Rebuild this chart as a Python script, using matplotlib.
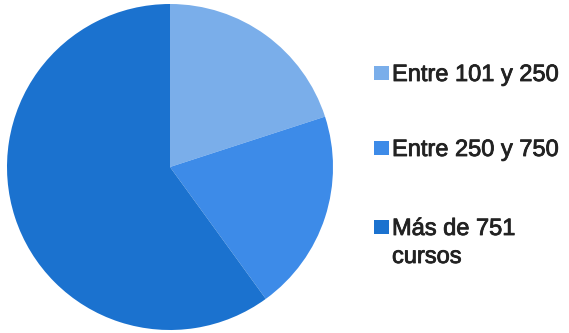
import matplotlib
matplotlib.use("Agg")
import matplotlib.pyplot as plt
import matplotlib.patheffects as pe
from matplotlib.patches import Rectangle

categories = ["Entre 101 y 250", "Entre 250 y 750", "Más de 751\ncursos"]
values = [20, 20, 60]
colors = ["#7aaeea", "#3d8be8", "#1b72cf"]

W, H = 569, 333
fig = plt.figure(figsize=(W / 100, H / 100), dpi=100)
fig.patch.set_facecolor("white")

# pie area: centre (170,167), radius ~162 px
cx, cy, r = 170, 167, 163
ax = fig.add_axes([(cx - r) / W, 1 - (cy + r) / H, 2 * r / W, 2 * r / H])
ax.pie(values, colors=colors, startangle=90, counterclock=False,
       wedgeprops=dict(linewidth=0), radius=1.0)
ax.set_xlim(-1, 1)
ax.set_ylim(-1, 1)
ax.set_aspect("equal")
ax.axis("off")

# legend: baseline of first line of each entry, in pixels from top
baselines = [81, 156, 235]
line_gap = 28
sq_w, sq_h = 15, 14
text_color = "#222222"
for label, col, yb in zip(categories, colors, baselines):
    fig.patches.append(Rectangle((374 / W, 1 - (yb - 1) / H), sq_w / W, sq_h / H,
                                 transform=fig.transFigure, facecolor=col,
                                 edgecolor="none"))
    for i, line in enumerate(label.split("\n")):
        fig.text(392 / W, 1 - (yb + i * line_gap) / H, line, fontsize=17,
                 family=["Liberation Sans", "DejaVu Sans"], color=text_color,
                 va="baseline", ha="left",
                 path_effects=[pe.withStroke(linewidth=0.6, foreground=text_color)])

fig.savefig("out.png", dpi=100, facecolor="white")
